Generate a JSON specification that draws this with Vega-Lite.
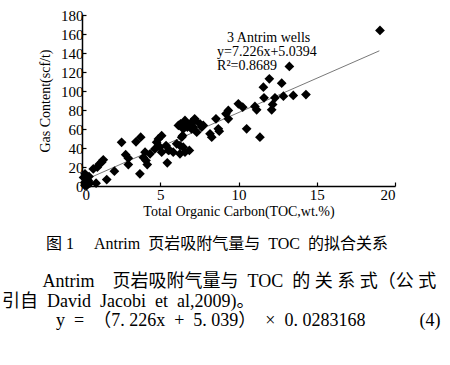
{
  "$schema": "https://vega.github.io/schema/vega-lite/v6.json",
  "width": 313,
  "height": 171,
  "autosize": "none",
  "padding": {"left": 82, "top": 15, "right": 55, "bottom": 179},
  "background": "white",
  "datasets": {
    "points": [
      {"toc": 0.19, "gas": 12.8}, {"toc": 0.19, "gas": 4}, {"toc": 0.3, "gas": 0.5}, {"toc": 0.4, "gas": 5.8},
      {"toc": 0.19, "gas": 0.5}, {"toc": 0.5, "gas": 3}, {"toc": 0.26, "gas": 7.5}, {"toc": 0.34, "gas": 1.6},
      {"toc": 0.1, "gas": 9}, {"toc": 0.2, "gas": 2}, {"toc": 0.45, "gas": 10},
      {"toc": 0.72, "gas": 18}, {"toc": 0.9, "gas": 3}, {"toc": 0.98, "gas": 19.8}, {"toc": 1.1, "gas": 23},
      {"toc": 1.26, "gas": 25}, {"toc": 1.36, "gas": 27.6}, {"toc": 1.58, "gas": 6.8}, {"toc": 2.07, "gas": 15.6},
      {"toc": 2.53, "gas": 46}, {"toc": 2.79, "gas": 33}, {"toc": 2.96, "gas": 22.6}, {"toc": 2.96, "gas": 29.3},
      {"toc": 3.45, "gas": 46.5}, {"toc": 3.75, "gas": 51.4}, {"toc": 3.7, "gas": 12.8}, {"toc": 3.92, "gas": 30},
      {"toc": 4.03, "gas": 35.6}, {"toc": 4.17, "gas": 22.6}, {"toc": 4.35, "gas": 33.9}, {"toc": 4.09, "gas": 26.8},
      {"toc": 4.66, "gas": 39}, {"toc": 4.77, "gas": 46}, {"toc": 4.88, "gas": 49.6}, {"toc": 5.09, "gas": 53},
      {"toc": 5.09, "gas": 35.6}, {"toc": 4.98, "gas": 40.8}, {"toc": 5.37, "gas": 42.6}, {"toc": 5.45, "gas": 24.4},
      {"toc": 5.58, "gas": 38}, {"toc": 5.83, "gas": 35.6}, {"toc": 5.52, "gas": 37.4}, {"toc": 6.05, "gas": 44.4},
      {"toc": 6.26, "gas": 42.6}, {"toc": 6.26, "gas": 33.9}, {"toc": 6.3, "gas": 65.5}, {"toc": 6.58, "gas": 69},
      {"toc": 6.47, "gas": 60}, {"toc": 6.69, "gas": 65.5}, {"toc": 6.37, "gas": 51.4}, {"toc": 6.58, "gas": 35.6},
      {"toc": 6.47, "gas": 40.8}, {"toc": 6.86, "gas": 37.4}, {"toc": 6.16, "gas": 63.7}, {"toc": 6.43, "gas": 53},
      {"toc": 6.73, "gas": 62}, {"toc": 7.0, "gas": 60}, {"toc": 7.2, "gas": 70.7}, {"toc": 7.0, "gas": 67},
      {"toc": 7.11, "gas": 62}, {"toc": 7.22, "gas": 69}, {"toc": 7.33, "gas": 56.6}, {"toc": 7.54, "gas": 65.5},
      {"toc": 7.75, "gas": 63.7}, {"toc": 7.65, "gas": 62},
      {"toc": 8.18, "gas": 55}, {"toc": 8.29, "gas": 51.4}, {"toc": 8.56, "gas": 70.7}, {"toc": 8.71, "gas": 60.2},
      {"toc": 8.77, "gas": 57.7}, {"toc": 9.2, "gas": 76}, {"toc": 9.35, "gas": 79.5}, {"toc": 9.35, "gas": 70.7},
      {"toc": 9.99, "gas": 86.5}, {"toc": 10.27, "gas": 83}, {"toc": 10.52, "gas": 60.2}, {"toc": 11.05, "gas": 83.7},
      {"toc": 11.16, "gas": 80.2}, {"toc": 11.37, "gas": 51.4}, {"toc": 11.59, "gas": 104}, {"toc": 11.63, "gas": 92.8},
      {"toc": 11.97, "gas": 112.8}, {"toc": 12.12, "gas": 80.2}, {"toc": 12.18, "gas": 85.8}, {"toc": 12.33, "gas": 92.8},
      {"toc": 12.76, "gas": 108.2}, {"toc": 12.87, "gas": 94.5}, {"toc": 13.25, "gas": 125.8}, {"toc": 13.5, "gas": 95.3},
      {"toc": 14.31, "gas": 96.3}, {"toc": 19.04, "gas": 163.7}
    ],
    "trend": [
      {"toc": 0.15, "gas": 6.1},
      {"toc": 19.0, "gas": 142.3}
    ],
    "notes": [
      {"toc": 9.27, "gas": 156, "label": "3 Antrim wells"},
      {"toc": 8.63, "gas": 141.4, "label": "y=7.226x+5.0394"},
      {"toc": 8.63, "gas": 126.3, "label": "R²=0.8689"}
    ]
  },
  "title": {
    "text": "\u200b\u3000\u3000\u00a0\u00a0\u00a0图 1\u00a0\u00a0\u00a0\u00a0\u00a0Antrim\u00a0 页岩吸附气量与\u00a0 TOC\u00a0 的拟合关系",
    "orient": "bottom",
    "anchor": "start",
    "dx": -36.5,
    "offset": 18,
    "font": "Liberation Serif, Noto Sans CJK SC",
    "fontSize": 16,
    "fontWeight": "normal",
    "color": "black",
    "subtitle": [
      "\u200b\u3000\u3000\u00a0Antrim\u00a0\u00a0\u00a0\u00a0页岩吸附气量与\u00a0\u00a0TOC\u00a0\u00a0的 关 系 式（公 式",
      "引自\u00a0\u00a0David\u00a0 Jacobi\u00a0 et\u00a0 al,2009)。",
      "\u200b\u3000\u3000\u3000y\u00a0 =\u00a0 （7. 226x\u00a0 +\u00a0 5. 039）\u00a0 ×\u00a0 0. 0283168\u00a0\u00a0\u00a0\u00a0\u00a0\u00a0\u00a0\u00a0\u00a0\u00a0\u00a0\u00a0(4)"
    ],
    "subtitleFont": "Liberation Serif, Noto Sans CJK SC",
    "subtitleFontSize": 18,
    "subtitleColor": "black",
    "subtitlePadding": 21,
    "subtitleLineHeight": 19.5
  },
  "encoding": {
    "x": {
      "field": "toc", "type": "quantitative",
      "scale": {"domain": [0, 20], "nice": false, "zero": true},
      "axis": {"values": [0, 5, 10, 15, 20], "title": "Total Organic Carbon(TOC,wt.%)", "labelPadding": 5}
    },
    "y": {
      "field": "gas", "type": "quantitative",
      "scale": {"domain": [0, 180], "nice": false},
      "axis": {"values": [0, 20, 40, 60, 80, 100, 120, 140, 160, 180], "title": "Gas Content(scf/t)"}
    }
  },
  "layer": [
    {
      "data": {"name": "trend"},
      "mark": {"type": "line", "color": "#555555", "strokeWidth": 0.8}
    },
    {
      "data": {"name": "points"},
      "mark": {"type": "point", "shape": "diamond", "filled": true, "color": "black", "opacity": 1, "size": 95}
    },
    {
      "data": {"name": "notes"},
      "mark": {"type": "text", "align": "left", "baseline": "middle", "font": "Liberation Serif", "fontSize": 14, "color": "black"},
      "encoding": {"text": {"field": "label"}}
    }
  ],
  "config": {
    "view": {"stroke": null},
    "axis": {
      "grid": false,
      "domainColor": "black",
      "domainWidth": 1.5,
      "tickColor": "black",
      "tickWidth": 1.2,
      "tickSize": -4,
      "labelFont": "Liberation Serif",
      "labelFontSize": 15,
      "labelColor": "black",
      "labelPadding": 3,
      "titleFont": "Liberation Serif",
      "titleFontSize": 14,
      "titleFontWeight": "normal",
      "titleColor": "black"
    },
    "axisX": {"titlePadding": 2},
    "axisY": {"titlePadding": 8}
  }
}
